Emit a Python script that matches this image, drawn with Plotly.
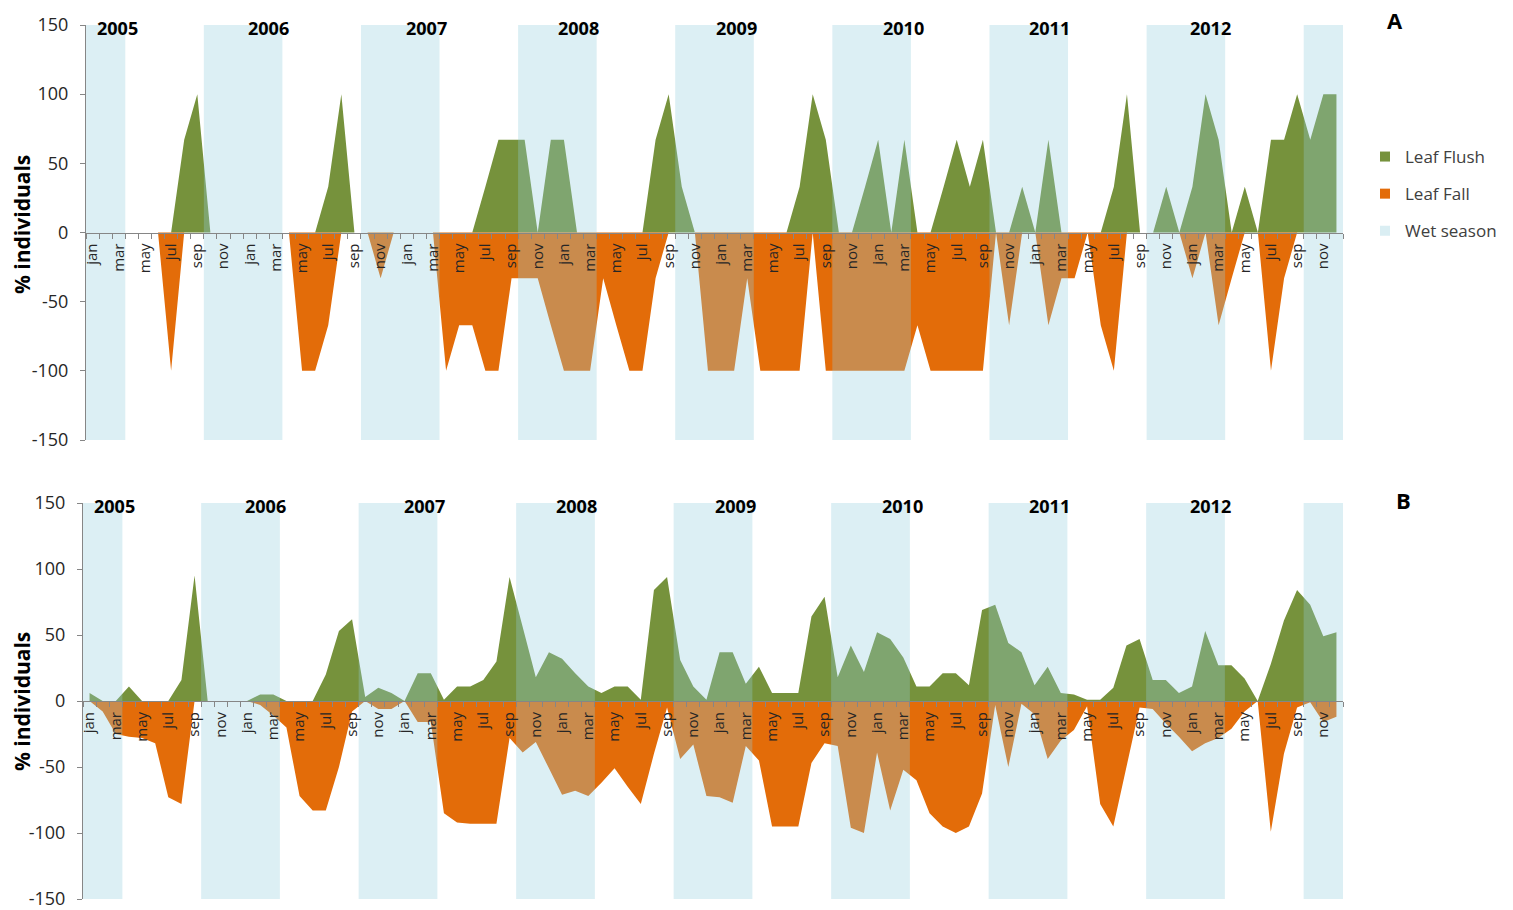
import plotly.graph_objects as go

# ---------------------------------------------------------------------------
# Data: monthly % of individuals flushing / shedding leaves, Jan 2005 - Dec 2012
# ---------------------------------------------------------------------------
MONTHS = ["jan", "feb", "mar", "apr", "may", "jun", "jul", "aug", "sep", "oct", "nov", "dec"]
YEARS = [2005, 2006, 2007, 2008, 2009, 2010, 2011, 2012]
WET_SEASON = ["oct", "nov", "dec", "jan", "feb", "mar"]

# Panel A
flush_a = [
    0, 0, 0, 0, 0, 0, 0, 67, 100, 0, 0, 0,        # 2005
    0, 0, 0, 0, 0, 0, 33, 100, 0, 0, 0, 0,        # 2006
    0, 0, 0, 0, 0, 0, 33, 67, 67, 67, 0, 67,      # 2007
    67, 0, 0, 0, 0, 0, 0, 67, 100, 33, 0, 0,      # 2008
    0, 0, 0, 0, 0, 0, 33, 100, 67, 0, 0, 33,      # 2009
    67, 0, 67, 0, 0, 33, 67, 33, 67, 0, 0, 33,    # 2010
    0, 67, 0, 0, 0, 0, 33, 100, 0, 0, 33, 0,      # 2011
    33, 100, 67, 0, 33, 0, 67, 67, 100, 67, 100, 100,  # 2012
]
fall_a = [
    0, 0, 0, 0, 0, 0, -100, 0, 0, 0, 0, 0,                            # 2005
    0, 0, 0, 0, -100, -100, -67, 0, 0, 0, -33, 0,                      # 2006
    0, 0, 0, -100, -67, -67, -100, -100, -33, -33, -33, -67,           # 2007
    -100, -100, -100, -33, -67, -100, -100, -33, 0, 0, 0, -100,        # 2008
    -100, -100, -33, -100, -100, -100, -100, 0, -100, -100, -100, -100,  # 2009
    -100, -100, -100, -67, -100, -100, -100, -100, -100, 0, -67, 0,    # 2010
    0, -67, -33, -33, 0, -67, -100, 0, 0, 0, 0, 0,                     # 2011
    -33, 0, -67, -33, 0, 0, -100, -33, 0, 0, 0, 0,                     # 2012
]

# Panel B
flush_b = [
    6, 0, 0, 11, 0, 0, 0, 16, 95, 0, 0, 0,          # 2005
    0, 5, 5, 0, 0, 0, 20, 53, 62, 3, 10, 6,         # 2006
    0, 21, 21, 1, 11, 11, 16, 30, 94, 56, 18, 37,   # 2007
    32, 21, 11, 6, 11, 11, 1, 84, 94, 31, 11, 1,    # 2008
    37, 37, 13, 26, 6, 6, 6, 64, 79, 18, 42, 22,    # 2009
    52, 47, 33, 11, 11, 21, 21, 12, 69, 73, 44, 37, # 2010
    12, 26, 6, 5, 1, 1, 10, 42, 47, 16, 16, 6,      # 2011
    11, 53, 27, 27, 17, 0, 28, 61, 84, 73, 49, 52,  # 2012
]
fall_b = [
    0, -8, -25, -27, -28, -32, -73, -78, 0, 0, 0, 0,            # 2005
    0, -3, -11, -20, -72, -83, -83, -50, -8, 0, -6, -6,         # 2006
    0, -16, -16, -85, -92, -93, -93, -93, -28, -39, -31, -51,   # 2007
    -71, -68, -72, -62, -51, -65, -78, -40, -5, -44, -33, -72,  # 2008
    -73, -77, -34, -45, -95, -95, -95, -47, -32, -34, -96, -100,  # 2009
    -39, -83, -52, -60, -85, -95, -100, -95, -70, -3, -50, -2,  # 2010
    -10, -44, -30, -22, -4, -78, -95, -50, -5, -6, -17, -27,    # 2011
    -38, -32, -28, -21, -8, 0, -99, -40, -5, -1, -16, -12,      # 2012
]

# ---------------------------------------------------------------------------
# Styling
# ---------------------------------------------------------------------------
FIG_W, FIG_H = 1513, 910
FONT = "Open Sans"
GREEN = "#76923C"
ORANGE = "#E36C09"
WET_OVERLAY = "rgba(147, 205, 221, 0.32)"
WET_SWATCH = "#DAEEF3"
AXIS_GREY = "#868686"
TEXT = "#262626"
Y_MIN, Y_MAX = -150, 150

# label positions (month index) for the year captions above each season band
YEAR_LABEL_X = [1.9, 13.4, 25.5, 37.1, 49.2, 61.9, 73.1, 85.4]

t = list(range(len(YEARS) * len(MONTHS)))
month_of = [MONTHS[i % 12] for i in t]


def px_x(p):
    return p / FIG_W


def px_y(p):
    return 1 - p / FIG_H


def wet_runs():
    """Contiguous runs of wet-season months as (first, last) month indices."""
    runs, start = [], None
    for i, m in enumerate(month_of):
        wet = m in WET_SEASON
        if wet and start is None:
            start = i
        elif not wet and start is not None:
            runs.append((start, i - 1))
            start = None
    if start is not None:
        runs.append((start, t[-1]))
    return runs


panels = [
    dict(letter="A", flush=flush_a, fall=fall_a, xdom=(86, 1343), ydom=(25, 440),
         letter_pos=(1395, 20), title_y=225),
    dict(letter="B", flush=flush_b, fall=fall_b, xdom=(83, 1343), ydom=(503, 899),
         letter_pos=(1403, 500), title_y=702),
]

fig = go.Figure()
annotations = []

for k, p in enumerate(panels, start=1):
    xa = "x" if k == 1 else f"x{k}"
    ya = "y" if k == 1 else f"y{k}"

    fig.add_trace(go.Scatter(
        x=t, y=p["flush"], mode="none", fill="tozeroy", fillcolor=GREEN,
        name="Leaf Flush", showlegend=False, xaxis=xa, yaxis=ya,
    ))
    fig.add_trace(go.Scatter(
        x=t, y=p["fall"], mode="none", fill="tozeroy", fillcolor=ORANGE,
        name="Leaf Fall", showlegend=False, xaxis=xa, yaxis=ya,
    ))

    # wet-season bands, translucent and laid over the areas
    bx, by = [], []
    for first, last in wet_runs():
        x0, x1 = first - 0.5, last + 0.5
        bx += [x0, x0, x1, x1, x0, None]
        by += [Y_MIN, Y_MAX, Y_MAX, Y_MIN, Y_MIN, None]
    fig.add_trace(go.Scatter(
        x=bx, y=by, mode="none", fill="toself", fillcolor=WET_OVERLAY,
        name="Wet season", showlegend=False, hoverinfo="skip", xaxis=xa, yaxis=ya,
    ))

    y0, y1 = px_y(p["ydom"][1]), px_y(p["ydom"][0])
    xkey = "xaxis" if k == 1 else f"xaxis{k}"
    ykey = "yaxis" if k == 1 else f"yaxis{k}"
    tickvals = t[::2]
    fig.update_layout({
        xkey: dict(
            domain=[px_x(p["xdom"][0]), px_x(p["xdom"][1])],
            range=[-0.5, t[-1] + 0.5],
            anchor="free", position=(y0 + y1) / 2,
            tickmode="array", tickvals=tickvals,
            ticktext=[month_of[i] for i in tickvals],
            tickangle=-90, ticks="outside", ticklen=4, tickcolor="rgba(0,0,0,0)",
            minor=dict(tickmode="array", tickvals=[i - 0.5 for i in t] + [t[-1] + 0.5],
                       ticks="outside", ticklen=5, tickcolor=AXIS_GREY, tickwidth=1),
            showline=True, linecolor=AXIS_GREY, linewidth=1,
            showgrid=False, zeroline=False, automargin=False,
            ticklabeloverflow="allow",
            tickfont=dict(family=FONT, size=15, color=TEXT),
            fixedrange=True,
        ),
        ykey: dict(
            domain=[y0, y1], anchor=xa, range=[Y_MIN, Y_MAX],
            tickmode="array", tickvals=list(range(Y_MIN, Y_MAX + 1, 50)),
            ticktext=[str(v) for v in range(Y_MIN, Y_MAX + 1, 50)],
            ticks="outside", ticklen=5, tickcolor=AXIS_GREY,
            ticklabelstandoff=8, ticklabeloverflow="allow",
            showline=True, linecolor=AXIS_GREY, linewidth=1,
            showgrid=False, zeroline=False, automargin=False,
            tickfont=dict(family=FONT, size=18, color=TEXT),
            fixedrange=True,
        ),
    })

    # axis title
    annotations.append(dict(
        text="% individuals", xref="paper", yref="paper",
        x=px_x(22), y=px_y(p["title_y"]), xanchor="center", yanchor="middle",
        textangle=-90, showarrow=False,
        font=dict(family=FONT, size=21, color="#000000", weight="bold"),
    ))
    # year captions
    for yr, xpos in zip(YEARS, YEAR_LABEL_X):
        annotations.append(dict(
            text=str(yr), xref=xa, yref=ya, x=xpos, y=148,
            xanchor="center", yanchor="middle", showarrow=False,
            font=dict(family=FONT, size=18, color="#000000", weight="bold"),
        ))
    # panel letter
    lx, ly = p["letter_pos"]
    annotations.append(dict(
        text=p["letter"], xref="paper", yref="paper", x=px_x(lx), y=px_y(ly),
        xanchor="center", yanchor="middle", showarrow=False,
        font=dict(family=FONT, size=22, color="#000000", weight="bold"),
    ))

# legend swatches
for name, color in [("Leaf Flush", GREEN), ("Leaf Fall", ORANGE), ("Wet season", WET_SWATCH)]:
    fig.add_trace(go.Scatter(
        x=[None], y=[None], mode="markers", name=name, legendgroup=name,
        marker=dict(symbol="square", size=10, color=color),
        xaxis="x", yaxis="y", showlegend=True,
    ))

fig.update_layout(
    width=FIG_W, height=FIG_H,
    margin=dict(l=0, r=0, t=0, b=0, autoexpand=False),
    paper_bgcolor="white", plot_bgcolor="white",
    font=dict(family=FONT, color=TEXT),
    annotations=annotations,
    legend=dict(
        x=px_x(1365), y=px_y(139), xanchor="left", yanchor="top",
        font=dict(family=FONT, size=17, color="#404040"),
        traceorder="grouped", tracegroupgap=12, itemwidth=30,
        bgcolor="rgba(0,0,0,0)",
    ),
    hovermode=False,
)

fig.write_html("out.html")
